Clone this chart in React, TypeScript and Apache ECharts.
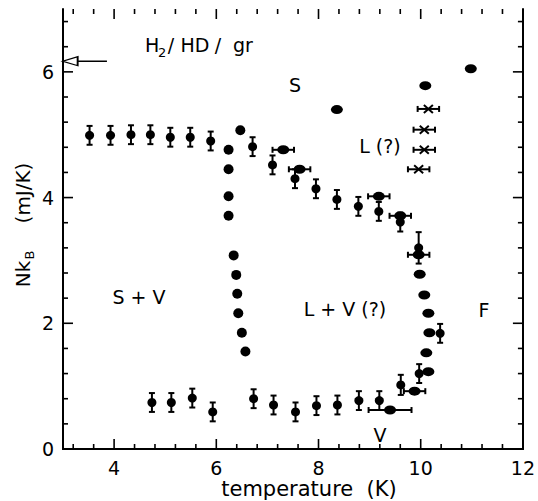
import React, { useEffect, useRef } from 'react';
import * as echarts from 'echarts';

// ---- tick labels ----
const xMajorTicks = [4, 6, 8, 10, 12];
const yMajorTicks = [0, 2, 4, 6];

// ---- data (temperature K, Nk_B mJ/K, error) ----
// points with vertical error bars, upper branch
const upperErrT = [3.52, 3.93, 4.33, 4.71, 5.10, 5.49, 5.89, 6.71, 7.10, 7.54, 7.95, 8.36, 8.78, 9.18, 9.60, 9.96];
const upperErrN = [4.99, 4.99, 5.00, 5.00, 4.96, 4.96, 4.90, 4.81, 4.52, 4.30, 4.14, 3.97, 3.86, 3.78, 3.61, 3.20];
const upperErrE = [0.15, 0.15, 0.15, 0.15, 0.15, 0.15, 0.15, 0.15, 0.15, 0.15, 0.15, 0.15, 0.15, 0.15, 0.15, 0.25];
// points with vertical error bars, lower branch
const lowerErrT = [4.74, 5.12, 5.53, 5.93, 6.73, 7.12, 7.55, 7.96, 8.37, 8.79, 9.19, 9.61, 9.97, 10.38];
const lowerErrN = [0.74, 0.74, 0.81, 0.59, 0.80, 0.70, 0.59, 0.69, 0.70, 0.77, 0.77, 1.02, 1.20, 1.84];
const lowerErrE = [0.15, 0.15, 0.15, 0.15, 0.15, 0.15, 0.15, 0.15, 0.15, 0.15, 0.15, 0.16, 0.15, 0.15];
// dots with horizontal error bars
const hErrT = [7.31, 7.63, 9.18, 9.60, 9.96, 9.88, 9.40];
const hErrN = [4.76, 4.45, 4.02, 3.71, 3.09, 0.92, 0.62];
const hErrE = [0.21, 0.21, 0.21, 0.21, 0.21, 0.21, 0.42];
// crosses with horizontal error bars
const crossT = [10.15, 10.07, 10.07, 9.96];
const crossN = [5.41, 5.08, 4.76, 4.45];
const crossE = [0.21, 0.21, 0.21, 0.21];
// plain dots, left column
const leftDotT = [6.47, 6.24, 6.24, 6.24, 6.24, 6.34, 6.39, 6.41, 6.43, 6.50, 6.57];
const leftDotN = [5.07, 4.76, 4.45, 4.02, 3.71, 3.08, 2.77, 2.47, 2.16, 1.85, 1.55];
// plain dots, right side
const rightDotT = [8.36, 10.09, 10.98, 9.98, 10.07, 10.15, 10.17, 10.11, 10.15];
const rightDotN = [5.40, 5.78, 6.05, 2.78, 2.45, 2.16, 1.85, 1.53, 1.23];
// arrow on the left axis
const arrowN = 6.17;
const arrowT = [3.14, 3.86];

const X_MIN = 3, X_MAX = 12, Y_MIN = 0, Y_MAX = 7;
const FONT = 'DejaVu Sans';

// tick positions: every 0.4, major every 2
const xTicks: number[][] = [];
for (let k = 8; k <= 30; k++) xTicks.push([Math.round(k * 4) / 10, k % 5 === 0 ? 1 : 0]);
const yTicks: number[][] = [];
for (let k = 1; k <= 17; k++) yTicks.push([Math.round(k * 4) / 10, k % 5 === 0 ? 1 : 0]);

const zip3 = (a: number[], b: number[], c: number[]) => a.map((v, i) => [v, b[i], c[i]]);
const zip2 = (a: number[], b: number[]) => a.map((v, i) => [v, b[i]]);

const ST = { stroke: '#000', lineWidth: 2 };
const TST = { stroke: '#000', lineWidth: 1.6 };
const CAP = 3;

const vBar = (_p: any, api: any) => {
  const t = api.value(0), n = api.value(1), e = api.value(2);
  const c = api.coord([t, n]);
  const hi = api.coord([t, n + e]);
  const lo = api.coord([t, n - e]);
  return {
    type: 'group',
    children: [
      { type: 'line', shape: { x1: c[0], y1: hi[1], x2: c[0], y2: lo[1] }, style: ST },
      { type: 'line', shape: { x1: c[0] - CAP, y1: hi[1], x2: c[0] + CAP, y2: hi[1] }, style: ST },
      { type: 'line', shape: { x1: c[0] - CAP, y1: lo[1], x2: c[0] + CAP, y2: lo[1] }, style: ST },
    ],
  };
};

const hBar = (withCross: boolean) => (_p: any, api: any) => {
  const t = api.value(0), n = api.value(1), e = api.value(2);
  const c = api.coord([t, n]);
  const l = api.coord([t - e, n]);
  const r = api.coord([t + e, n]);
  const children: any[] = [
    { type: 'line', shape: { x1: l[0], y1: c[1], x2: r[0], y2: c[1] }, style: ST },
    { type: 'line', shape: { x1: l[0], y1: c[1] - CAP, x2: l[0], y2: c[1] + CAP }, style: ST },
    { type: 'line', shape: { x1: r[0], y1: c[1] - CAP, x2: r[0], y2: c[1] + CAP }, style: ST },
  ];
  if (withCross) {
    children.push(
      { type: 'line', shape: { x1: c[0] - 4.5, y1: c[1] - 4, x2: c[0] + 4.5, y2: c[1] + 4 }, style: ST },
      { type: 'line', shape: { x1: c[0] - 4.5, y1: c[1] + 4, x2: c[0] + 4.5, y2: c[1] - 4 }, style: ST },
    );
  }
  return { type: 'group', children };
};

// inward ticks on all four sides
const xTickItem = (_p: any, api: any) => {
  const v = api.value(0);
  const len = api.value(1) ? 10 : 5;
  const b = api.coord([v, Y_MIN]);
  const t = api.coord([v, Y_MAX]);
  return {
    type: 'group',
    children: [
      { type: 'line', shape: { x1: b[0], y1: b[1], x2: b[0], y2: b[1] - len }, style: TST },
      { type: 'line', shape: { x1: t[0], y1: t[1], x2: t[0], y2: t[1] + len }, style: TST },
    ],
  };
};
const yTickItem = (_p: any, api: any) => {
  const v = api.value(1);
  const len = api.value(2) ? 10 : 5;
  const l = api.coord([X_MIN, v]);
  const r = api.coord([X_MAX, v]);
  return {
    type: 'group',
    children: [
      { type: 'line', shape: { x1: l[0], y1: l[1], x2: l[0] + len, y2: l[1] }, style: TST },
      { type: 'line', shape: { x1: r[0], y1: r[1], x2: r[0] - len, y2: r[1] }, style: TST },
    ],
  };
};

const ellipse = 'path://M0,5A5,5 0 1,1 10,5A5,5 0 1,1 0,5Z';

const axisLineStyle = { show: true, lineStyle: { color: '#000', width: 2 } };
const labelStyle = { color: '#000', fontSize: 19, fontFamily: FONT };

const text = (t: string, x: number, y: number, size = 19, align = 'center') => ({
  type: 'text',
  x,
  y,
  style: {
    text: t,
    fill: '#000',
    fontSize: size,
    fontFamily: FONT,
    align,
    textAlign: align,
    verticalAlign: 'middle',
    textVerticalAlign: 'middle',
  },
});

const option: any = {
  animation: false,
  backgroundColor: '#fff',
  grid: { left: 63, right: 6, top: 9, bottom: 52 },
  xAxis: [
    {
      type: 'value', min: X_MIN, max: X_MAX, position: 'bottom', splitLine: { show: false },
      axisLine: axisLineStyle,
      axisTick: { show: false },
      axisLabel: { ...labelStyle, margin: 9, customValues: xMajorTicks },
    },
    {
      type: 'value', min: X_MIN, max: X_MAX, position: 'top', splitLine: { show: false },
      axisLine: axisLineStyle,
      axisTick: { show: false },
      axisLabel: { show: false },
    },
  ],
  yAxis: [
    {
      type: 'value', min: Y_MIN, max: Y_MAX, position: 'left', splitLine: { show: false },
      axisLine: axisLineStyle,
      axisTick: { show: false },
      axisLabel: { ...labelStyle, margin: 9, customValues: yMajorTicks },
    },
    {
      type: 'value', min: Y_MIN, max: Y_MAX, position: 'right', splitLine: { show: false },
      axisLine: axisLineStyle,
      axisTick: { show: false },
      axisLabel: { show: false },
    },
  ],
  series: [
    { type: 'custom', renderItem: xTickItem, data: xTicks.map((d) => [d[0], 0, d[1]]).map((d) => [d[0], d[2]]), encode: { x: 0 }, silent: true },
    { type: 'custom', renderItem: yTickItem, data: yTicks.map((d) => [X_MIN, d[0], d[1]]), encode: { x: 0, y: 1 }, silent: true },
    { type: 'custom', renderItem: vBar, data: zip3(upperErrT, upperErrN, upperErrE), encode: { x: 0, y: 1 } },
    { type: 'custom', renderItem: vBar, data: zip3(lowerErrT, lowerErrN, lowerErrE), encode: { x: 0, y: 1 } },
    { type: 'custom', renderItem: hBar(false), data: zip3(hErrT, hErrN, hErrE), encode: { x: 0, y: 1 } },
    { type: 'custom', renderItem: hBar(true), data: zip3(crossT, crossN, crossE), encode: { x: 0, y: 1 } },
    {
      type: 'scatter',
      data: zip2(upperErrT, upperErrN).concat(zip2(lowerErrT, lowerErrN)),
      symbol: 'circle',
      symbolSize: 9,
      itemStyle: { color: '#000', opacity: 1 },
    },
    {
      type: 'scatter',
      data: zip2(hErrT, hErrN),
      symbol: ellipse,
      symbolSize: [12, 9],
      itemStyle: { color: '#000', opacity: 1 },
    },
    {
      type: 'scatter',
      data: zip2(leftDotT, leftDotN),
      symbol: ellipse,
      symbolSize: [10, 10],
      itemStyle: { color: '#000', opacity: 1 },
    },
    {
      type: 'scatter',
      data: zip2(rightDotT, rightDotN),
      symbol: ellipse,
      symbolSize: [12, 9],
      itemStyle: { color: '#000', opacity: 1 },
    },
    {
      type: 'line',
      data: [
        { value: [arrowT[0], arrowN], symbol: 'triangle', symbolSize: [9, 15], symbolRotate: 90 },
        { value: [arrowT[1], arrowN], symbol: 'none' },
      ],
      showSymbol: true,
      lineStyle: { color: '#000', width: 1.5 },
      itemStyle: { color: '#fff', borderColor: '#000', borderWidth: 1.5 },
      z: 5,
    },
  ],
  graphic: [
    text('H', 145, 45, 19, 'left'),
    text('2', 158, 52, 13, 'left'),
    text('/', 171, 45, 19),
    text('HD', 195, 45, 19),
    text('/', 218, 45, 19),
    text('gr', 243, 45, 19),
    text('S', 295, 85, 19),
    text('L (?)', 380, 146, 19),
    text('S + V', 139, 297, 19),
    text('L + V (?)', 345, 309, 19),
    text('F', 484, 310, 19),
    text('V', 380, 435, 19),
    text('temperature  (K)', 309, 489, 21),
    {
      type: 'group',
      x: 23,
      y: 223,
      rotation: Math.PI / 2,
      children: [
        text('Nk', -51, 0, 20),
        text('B', -32, 6, 13),
        text('(mJ/K)', 30, 0, 20),
      ],
    },
  ],
};

export default function App() {
  const ref = useRef<HTMLDivElement>(null);
  useEffect(() => {
    const chart = echarts.init(ref.current!, null, { renderer: 'svg' });
    chart.setOption(option);
    return () => chart.dispose();
  }, []);
  return <div ref={ref} style={{ position: 'absolute', left: 0, top: 0, width: 538, height: 501 }} />;
}
